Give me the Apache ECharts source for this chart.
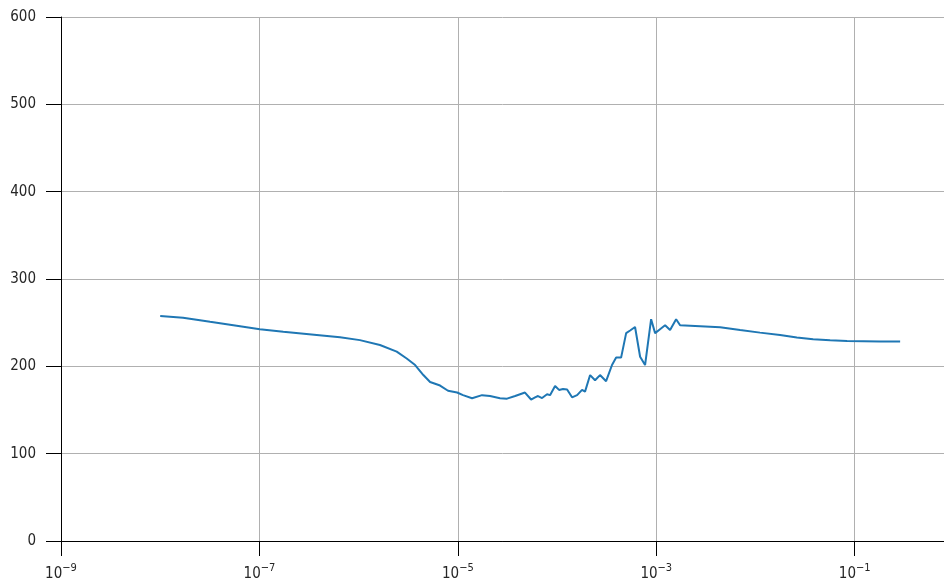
<!DOCTYPE html>
<html>
<head>
<meta charset="utf-8">
<script src="https://cdn.jsdelivr.net/npm/echarts@6/dist/echarts.min.js"></script>
<style>
  html, body { margin: 0; padding: 0; background: #fff; }
  #chart { width: 944px; height: 582px; }
</style>
</head>
<body>
<div id="chart"></div>
<script>
// Learning-rate sweep: loss against learning rate (log scale)
const learningRates = [
  1.00e-8, 1.70e-8, 3.18e-8, 5.90e-8, 1.01e-7, 1.74e-7, 3.78e-7, 6.49e-7,
  1.03e-6, 1.64e-6, 2.42e-6, 3.05e-6, 3.71e-6, 4.49e-6, 5.25e-6, 6.62e-6,
  7.96e-6, 9.82e-6, 1.127e-5, 1.39e-5, 1.754e-5, 2.11e-5, 2.66e-5, 3.13e-5,
  3.78e-5, 4.75e-5, 5.47e-5, 6.0e-5, 6.43e-5, 7.06e-5, 7.93e-5, 8.49e-5,
  9.55e-5, 1.047e-4, 1.148e-4, 1.262e-4, 1.416e-4, 1.592e-4, 1.786e-4, 1.914e-4,
  2.153e-4, 2.415e-4, 2.71e-4, 3.12e-4, 3.58e-4, 3.94e-4, 4.42e-4, 4.97e-4,
  5.45e-4, 6.11e-4, 6.87e-4, 7.71e-4, 8.87e-4, 9.73e-4, 1.091e-3, 1.227e-3,
  1.377e-3, 1.585e-3, 1.738e-3, 2.77e-3, 4.40e-3, 7.0e-3, 1.11e-2, 1.77e-2,
  2.61e-2, 3.81e-2, 5.65e-2, 8.38e-2, 0.180, 0.287
];
const losses = [
  257.6, 255.7, 251, 246.5, 242.5, 239.7, 236, 233.2,
  230, 224.4, 216.8, 209, 201.5, 190, 182, 178,
  172, 170, 167, 163.5, 167, 166, 163.5, 163,
  166, 170, 162, 164.5, 166, 163.7, 168, 167,
  177.5, 173, 174, 173.5, 164.5, 167, 173, 171,
  190, 184, 190, 183, 201.5, 210, 210, 238,
  241, 245, 211, 201.5, 254, 238, 242.5, 247,
  241.5, 254, 247, 246, 244.7, 241.6, 238.6, 236,
  233, 231, 229.8, 229, 228.5, 228.3
];
const yTicks = [0, 100, 200, 300, 400, 500, 600];

const chart = echarts.init(document.getElementById('chart'), null, { renderer: 'canvas' });
const axisText = '#262626';
const font = 'DejaVu Sans Condensed';

chart.setOption({
  animation: false,
  backgroundColor: '#fff',
  grid: { left: 61, right: 0, top: 17, bottom: 41 },
  xAxis: [{
    type: 'log',
    logBase: 10,
    min: 1e-9,
    max: Math.pow(10, -0.1),
    interval: 2,
    axisLine: { show: true, onZero: false, lineStyle: { color: '#000', width: 1 } },
    axisTick: { show: true, length: 15, inside: false, lineStyle: { color: '#000', width: 1 } },
    minorTick: { show: false },
    splitLine: { show: true, lineStyle: { color: '#b0b0b0', width: 1 } },
    axisLabel: {
      margin: 22,
      showMaxLabel: false,
      formatter: function (v) {
        const e = Math.round(Math.log10(v));
        if (Math.abs(Math.log10(v) - e) > 1e-6) return '';
        return '{b|10}{s|\u2212' + Math.abs(e) + '}';
      },
      rich: {
        b: { fontFamily: font, fontSize: 15, color: axisText, verticalAlign: 'bottom', padding: [4, 0, 0, 0] },
        s: { fontFamily: font, fontSize: 11, color: axisText, verticalAlign: 'top', padding: [0, 0, 6, 0] }
      }
    }
  }, {
    type: 'log',
    position: 'top',
    min: 1e-9,
    max: Math.pow(10, -0.1),
    axisLine: { show: true, lineStyle: { color: '#000', width: 1 } },
    axisTick: { show: false },
    axisLabel: { show: false },
    splitLine: { show: false }
  }],
  yAxis: {
    type: 'value',
    min: 0,
    max: 600,
    interval: 100,
    axisLine: { show: true, lineStyle: { color: '#000', width: 1 } },
    axisTick: { show: true, length: 15, lineStyle: { color: '#000', width: 1 } },
    splitLine: { show: true, lineStyle: { color: '#b0b0b0', width: 1 } },
    axisLabel: {
      margin: 25,
      fontFamily: font,
      fontSize: 15,
      color: axisText,
      formatter: function (v) { return yTicks.indexOf(v) >= 0 ? String(v) : ''; }
    }
  },
  series: [{
    type: 'line',
    xAxisIndex: 0,
    data: learningRates.map((lr, i) => [lr, losses[i]]),
    showSymbol: false,
    smooth: false,
    lineStyle: { color: '#1f77b4', width: 2 },
    itemStyle: { color: '#1f77b4' }
  }]
});
</script>
</body>
</html>
